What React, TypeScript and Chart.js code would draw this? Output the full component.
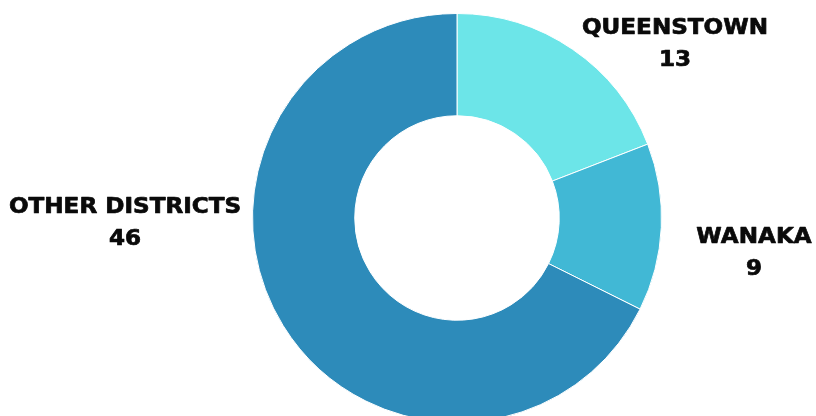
import React, { useEffect, useRef } from "react";
import { Chart, registerables } from "chart.js";

Chart.register(...registerables);

const categories = ["QUEENSTOWN", "WANAKA", "OTHER DISTRICTS"];
const values = [13, 9, 46];
const colors = ["#6ce5e8", "#41b8d5", "#2d8bba"];

// label anchor placement (layout only)
const labelPlacement = [
  { x: 675, y: 29 },
  { x: 754, y: 238 },
  { x: 125, y: 208 },
];

const labelPlugin = {
  id: "sideLabels",
  afterDraw(chart: any) {
    const ctx = chart.ctx;
    const data = chart.data;
    data.labels.forEach((lab: string, i: number) => {
      const p = labelPlacement[i];
      ctx.save();
      ctx.translate(p.x, p.y);
      ctx.scale(1.1, 1);
      ctx.fillStyle = "#0a0a0a";
      ctx.strokeStyle = "#0a0a0a";
      ctx.lineWidth = 0.7;
      ctx.lineJoin = "round";
      ctx.textAlign = "center";
      ctx.textBaseline = "middle";
      ctx.font = "bold 21px 'DejaVu Sans'";
      const v = String(data.datasets[0].data[i]);
      ctx.fillText(lab, 0, 0);
      ctx.strokeText(lab, 0, 0);
      ctx.fillText(v, 0, 32);
      ctx.strokeText(v, 0, 32);
      ctx.restore();
    });
  },
};

export default function App() {
  const ref = useRef<HTMLCanvasElement>(null);
  useEffect(() => {
    document.body.style.margin = "0";
    const chart = new Chart(ref.current!, {
      type: "doughnut",
      data: {
        labels: categories,
        datasets: [
          {
            data: values,
            backgroundColor: colors,
            borderColor: "#ffffff",
            borderWidth: 1,
          },
        ],
      },
      options: {
        animation: false,
        responsive: false,
        cutout: "50%",
        layout: { padding: { top: 13, bottom: 17, left: 252, right: 154 } },
        plugins: { legend: { display: false }, tooltip: { enabled: false } },
      },
      plugins: [labelPlugin],
    });
    return () => chart.destroy();
  }, []);
  return (
    <div style={{ position: "fixed", left: 0, top: 0, width: 816, height: 416, overflow: "hidden", background: "#fff" }}>
      <canvas ref={ref} width={816} height={440} style={{ display: "block", width: 816, height: 440 }} />
    </div>
  );
}
